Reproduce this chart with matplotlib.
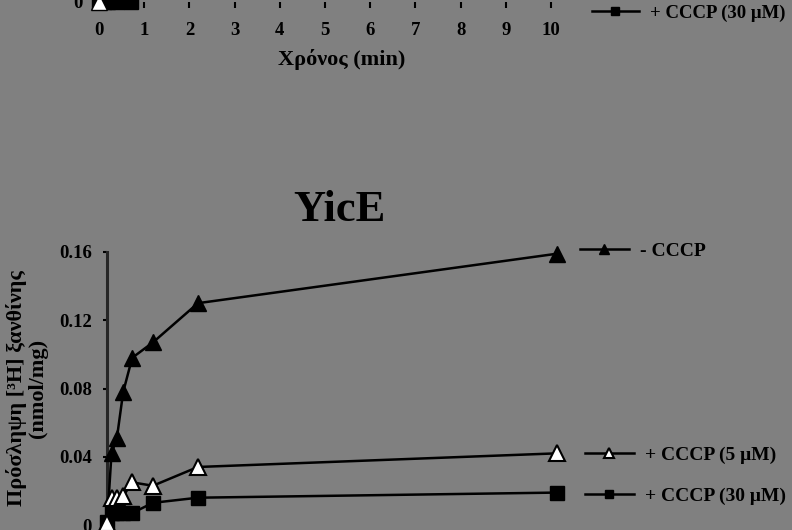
import matplotlib
matplotlib.use("Agg")
import matplotlib.pyplot as plt

# lower chart (YicE), time in min
t_lower = [0, 0.1, 0.22, 0.36, 0.56, 1.02, 2.02, 10]
minus_cccp = [0.0, 0.042, 0.051, 0.078, 0.098, 0.107, 0.130, 0.159]
cccp_5 = [0.001, 0.016, 0.016, 0.017, 0.025, 0.023, 0.034, 0.042]
cccp_30 = [0.002, 0.007, 0.007, 0.007, 0.007, 0.013, 0.016, 0.019]

# fragment of the chart above (only its bottom edge is in the picture)
t_upper = [0, 0.1, 0.2, 0.4, 0.7]
upper_30 = [0.0, 0.0, 0.0, 0.0, 0.0]
upper_ticks = list(range(11))

bg = "#808080"
plt.rcParams["font.family"] = ["Liberation Serif", "DejaVu Serif"]
plt.rcParams["font.weight"] = "bold"

fig = plt.figure(figsize=(7.92, 5.30), dpi=100, facecolor=bg)
W, H = 792.0, 530.0

# ---- upper chart fragment ----
ax_up = fig.add_axes([99 / W, 1 - 2 / H, 452 / W, 0.5])
ax_up.patch.set_alpha(0)
ax_up.set_xlim(0, 10)
ax_up.set_ylim(0, 0.16)
sq_up, = ax_up.plot(t_upper, upper_30, color="black", lw=1.8, marker="s", ms=10,
                    clip_on=False)
ax_up.plot([0], [0], color="black", lw=0, marker="^", ms=11, mfc="white",
           mec="black", clip_on=False)
for s in ax_up.spines.values():
    s.set_visible(False)
ax_up.set_xticks(upper_ticks)
ax_up.set_xticklabels([str(v) for v in upper_ticks], fontsize=13.5, fontweight="bold")
ax_up.tick_params(axis="x", direction="out", length=4.5, width=1.5, pad=10)
ax_up.set_yticks([0])
ax_up.set_yticklabels(["0"], fontsize=13.5, fontweight="bold")
ax_up.tick_params(axis="y", length=0, pad=12)
fig.text(342 / W, 1 - 60 / H, "Χρόνος (min)", fontsize=16, fontweight="bold",
         ha="center", va="center")
fig.legend(handles=[sq_up], labels=["+ CCCP (30 μM)"], loc="center left",
           bbox_to_anchor=(592 / W, 1 - 13 / H), frameon=False, fontsize=13.5,
           handlelength=2.5, handletextpad=0.6, borderpad=0, borderaxespad=0,
           markerscale=0.6)

# ---- lower chart ----
ax = fig.add_axes([107 / W, 5 / H, 450 / W, 273 / H])
ax.patch.set_alpha(0)
ax.set_xlim(0, 10)
ax.set_ylim(0, 0.16)

l1, = ax.plot(t_lower, minus_cccp, color="black", lw=1.8, marker="^", ms=11,
              mfc="black", mec="black", clip_on=False, zorder=3)
l2, = ax.plot(t_lower, cccp_5, color="black", lw=1.8, marker="^", ms=11,
              mfc="white", mec="black", mew=1.5, clip_on=False, zorder=4)
l3, = ax.plot(t_lower, cccp_30, color="black", lw=1.8, marker="s", ms=10,
              mfc="black", mec="black", clip_on=False, zorder=3)

for side in ["top", "right", "bottom"]:
    ax.spines[side].set_visible(False)
ax.spines["left"].set_color("#262626")
ax.spines["left"].set_linewidth(2.2)
ax.set_xticks([])
ax.set_yticks([0, 0.04, 0.08, 0.12, 0.16])
ax.set_yticklabels(["0", "0.04", "0.08", "0.12", "0.16"], fontsize=13.5,
                   fontweight="bold")
ax.tick_params(axis="y", direction="out", length=3, width=1.5, pad=8)

fig.text(339 / W, 1 - 210 / H, "YicE", fontsize=32, fontweight="bold",
         ha="center", va="center")
fig.text(27 / W, 1 - 388 / H, "Πρόσληψη [³H] ξανθίνης\n(nmol/mg)", fontsize=16,
         fontweight="bold", rotation=90, ha="center", va="center",
         multialignment="center", linespacing=1.05)

for h, lab, x, y in [(l1, "- CCCP", 580, 251), (l2, "+ CCCP (5 μM)", 585, 455),
                     (l3, "+ CCCP (30 μM)", 585, 496)]:
    fig.legend(handles=[h], labels=[lab], loc="center left",
               bbox_to_anchor=(x / W, 1 - y / H), frameon=False, fontsize=14,
               handlelength=2.5, handletextpad=0.6, borderpad=0,
               borderaxespad=0, markerscale=0.6)

fig.savefig("out.png", dpi=100, facecolor=bg)
